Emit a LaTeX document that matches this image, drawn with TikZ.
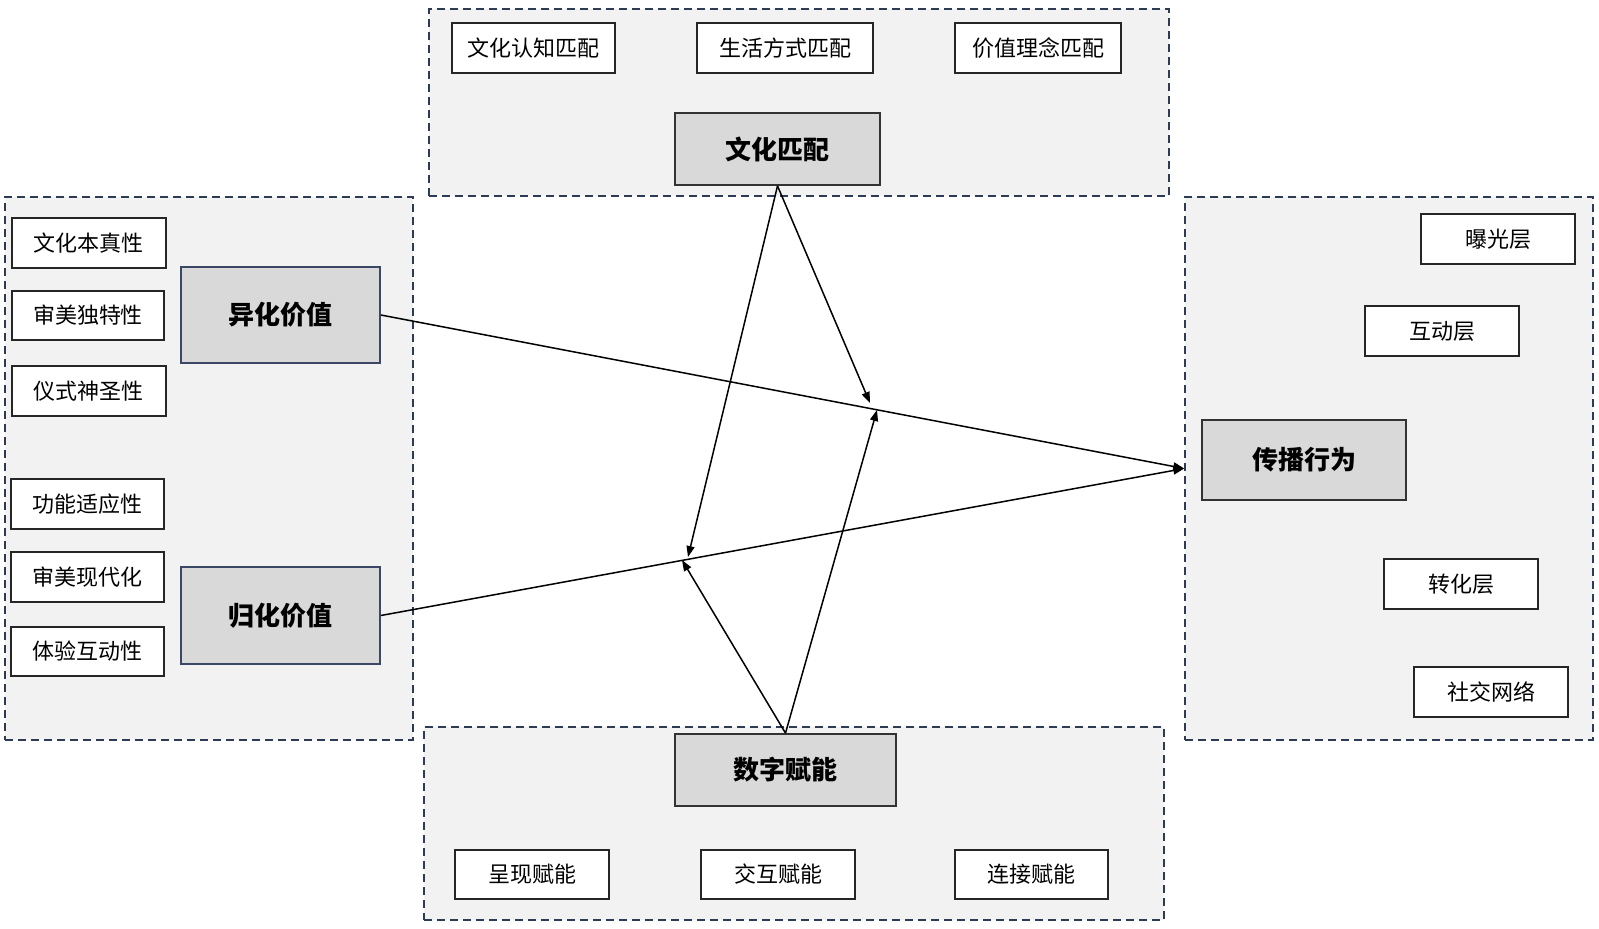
\documentclass[tikz,border=0pt]{standalone}
\usepackage{fontspec}
\newfontfamily\cjk{Noto Sans CJK SC}
\usetikzlibrary{arrows.meta}
\definecolor{grpfill}{HTML}{F2F2F2}
\definecolor{grpline}{HTML}{2E3B55}
\definecolor{mainfill}{HTML}{D9D9D9}
\definecolor{bluebd}{HTML}{3A4866}
\tikzset{
  grp/.style={draw=grpline, fill=grpfill, line width=1.5pt, dash pattern=on 8pt off 5pt},
  smallbox/.style={draw=black!85, fill=white, line width=1.8pt, inner sep=0pt, font=\cjk\fontsize{22}{26}\selectfont, minimum height=50pt, minimum width=154pt},
  mainbox/.style={draw=black!80, fill=mainfill, line width=1.8pt, inner sep=0pt, font=\cjk\bfseries\fontsize{26}{31}\selectfont},
  arr/.style={draw=black, line width=1.5pt, -{Triangle[length=11pt,width=8pt]}}
}
\begin{document}
\begin{tikzpicture}[x=1pt,y=-1pt]
\useasboundingbox (0,0) rectangle (1599,929);
% groups
\node[grp, minimum width=740pt, minimum height=187pt, inner sep=0pt] (tg) at (799,102.5) {};
\node[grp, minimum width=408pt, minimum height=543pt, inner sep=0pt] (lg) at (209,468.5) {};
\node[grp, minimum width=408pt, minimum height=543pt, inner sep=0pt] (rg) at (1389,468.5) {};
\node[grp, minimum width=740pt, minimum height=193pt, inner sep=0pt] (bg) at (794,823.5) {};
% top
\node[smallbox, minimum width=163pt] (t1) at (533.5,48) {文化认知匹配};
\node[smallbox, minimum width=176pt] (t2) at (785,48) {生活方式匹配};
\node[smallbox, minimum width=166pt] (t3) at (1038,48) {价值理念匹配};
\node[mainbox, minimum width=205pt, minimum height=72pt] (wh) at (777.5,149) {文化匹配};
% left
\node[smallbox] (l1) at (89,243) {文化本真性};
\node[smallbox, minimum width=152pt, minimum height=49pt] (l2) at (88,315.5) {审美独特性};
\node[smallbox] (l3) at (89,391) {仪式神圣性};
\node[smallbox, minimum width=153pt] (l4) at (87.5,504) {功能适应性};
\node[smallbox, minimum width=153pt] (l5) at (87.5,577) {审美现代化};
\node[smallbox, minimum width=153pt, minimum height=49pt] (l6) at (87.5,651.5) {体验互动性};
\node[mainbox, draw=bluebd, minimum width=199pt, minimum height=96pt] (yh) at (280.5,315) {异化价值};
\node[mainbox, draw=bluebd, minimum width=199pt, minimum height=97pt] (gh) at (280.5,615.5) {归化价值};
% right
\node[smallbox] (r1) at (1498,239) {曝光层};
\node[smallbox] (r2) at (1442,331) {互动层};
\node[mainbox, minimum width=204pt, minimum height=80pt] (cb) at (1304,460) {传播行为};
\node[smallbox] (r3) at (1461,584) {转化层};
\node[smallbox] (r4) at (1491,692) {社交网络};
% bottom
\node[mainbox, minimum width=221pt, minimum height=72pt] (sz) at (785.5,770) {数字赋能};
\node[smallbox, minimum height=49pt] (b1) at (532,874.5) {呈现赋能};
\node[smallbox, minimum height=49pt] (b2) at (778,874.5) {交互赋能};
\node[smallbox, minimum width=153pt, minimum height=49pt] (b3) at (1031.5,874.5) {连接赋能};
% moderation targets
\coordinate (m1) at (688,557);
\coordinate (m2) at (870,403);
\coordinate (m3) at (682,560);
\coordinate (m4) at (877,410);
% arrows
\draw[arr] (yh.east) -- (rg.west);
\draw[arr] (gh.east) -- (rg.west);
\draw[arr] (wh.south) -- (m1);
\draw[arr] (wh.south) -- (m2);
\draw[arr] (sz.north) -- (m3);
\draw[arr] (sz.north) -- (m4);
\end{tikzpicture}
\end{document}
